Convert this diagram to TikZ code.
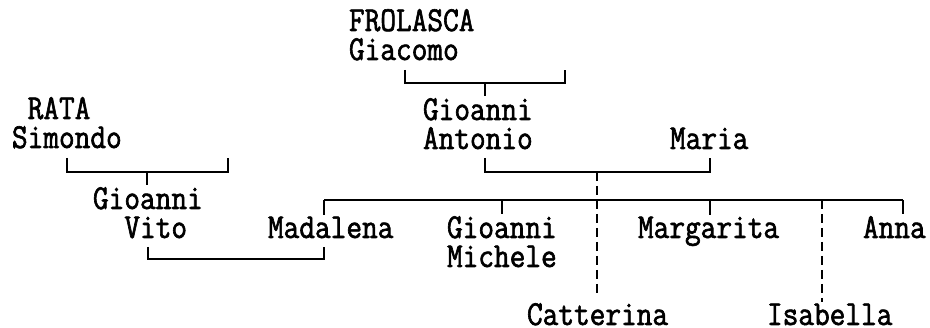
\documentclass[tikz,border=0pt]{standalone}
\usepackage{fontspec}
\newfontfamily\treefont[FakeStretch=0.87,FakeBold=1.8]{Latin Modern Mono}
\begin{document}
\begin{tikzpicture}[x=1pt,y=-1pt,
    person/.style={font={\treefont\fontsize{35}{29}\selectfont},align=left,
      inner sep=0pt,outer sep=2pt,anchor=base west},
    link/.style={line width=1.3pt},
    dashlink/.style={link,dash pattern=on 9pt off 5pt}]
  \useasboundingbox (0,0) rectangle (930,328);

  % the people, one node each (placed at the baseline of the last line)
  \node[person] (giacomo) at (347,60) {FROLASCA\\Giacomo};
  \node[person] (simondo) at (10,148) {\phantom{S}RATA\\Simondo};
  \node[person] (antonio) at (421,149) {Gioanni\\Antonio};
  \node[person] (maria) at (668,149) {Maria};
  \node[person] (vito) at (91,238) {Gioanni\\\phantom{Gi}Vito};
  \node[person] (madalena) at (266,238) {Madalena};
  \node[person] (michele) at (445,267) {Gioanni\\Michele};
  \node[person] (margarita) at (636,238) {Margarita};
  \node[person] (anna) at (861,238) {Anna};
  \node[person] (catterina) at (525,325) {Catterina};
  \node[person] (isabella) at (765,325) {Isabella};

  % corners and drop points of the brackets
  \coordinate (gia-l) at (405,70);
  \coordinate (gia-r) at (565,70);
  \coordinate (gia-drop) at (485,83);
  \coordinate (sim-l) at (67,158);
  \coordinate (sim-r) at (228,158);
  \coordinate (sim-drop) at (147,172);
  \coordinate (ant-l) at (485,158);
  \coordinate (ant-r) at (710,158);
  \coordinate (ant-drop) at (597,172);
  \coordinate (vit-l) at (148,247);
  \coordinate (vit-r) at (324,247);
  \coordinate (bus-mad) at (324,200);
  \coordinate (bus-mic) at (502,200);
  \coordinate (bus-mar) at (710,200);
  \coordinate (bus-isa) at (822,200);
  \coordinate (bus-ann) at (903,200);

  % marriages
  \draw[link] (gia-l) -- ++(0,13) -| (gia-r);
  \draw[link] (sim-l) -- ++(0,14) -| (sim-r);
  \draw[link] (ant-l) -- ++(0,14) -| (ant-r);
  \draw[link] (vit-l) -- ++(0,12) -| (vit-r);
  \draw[link] (gia-drop) -- (gia-drop |- antonio.north);
  \draw[link] (sim-drop) -- (sim-drop |- vito.north);

  % children of Gioanni Antonio and Maria
  \draw[link] (bus-mad) -- (bus-ann);
  \draw[dashlink] (ant-drop) -- ([yshift=4pt]ant-drop |- catterina.north);
  \draw[dashlink] (bus-isa) -- (bus-isa |- isabella.north);
  \foreach \kid/\who in {mad/madalena,mic/michele,mar/margarita,ann/anna}
    \draw[link] (bus-\kid) -- (bus-\kid |- \who.north);
\end{tikzpicture}
\end{document}
